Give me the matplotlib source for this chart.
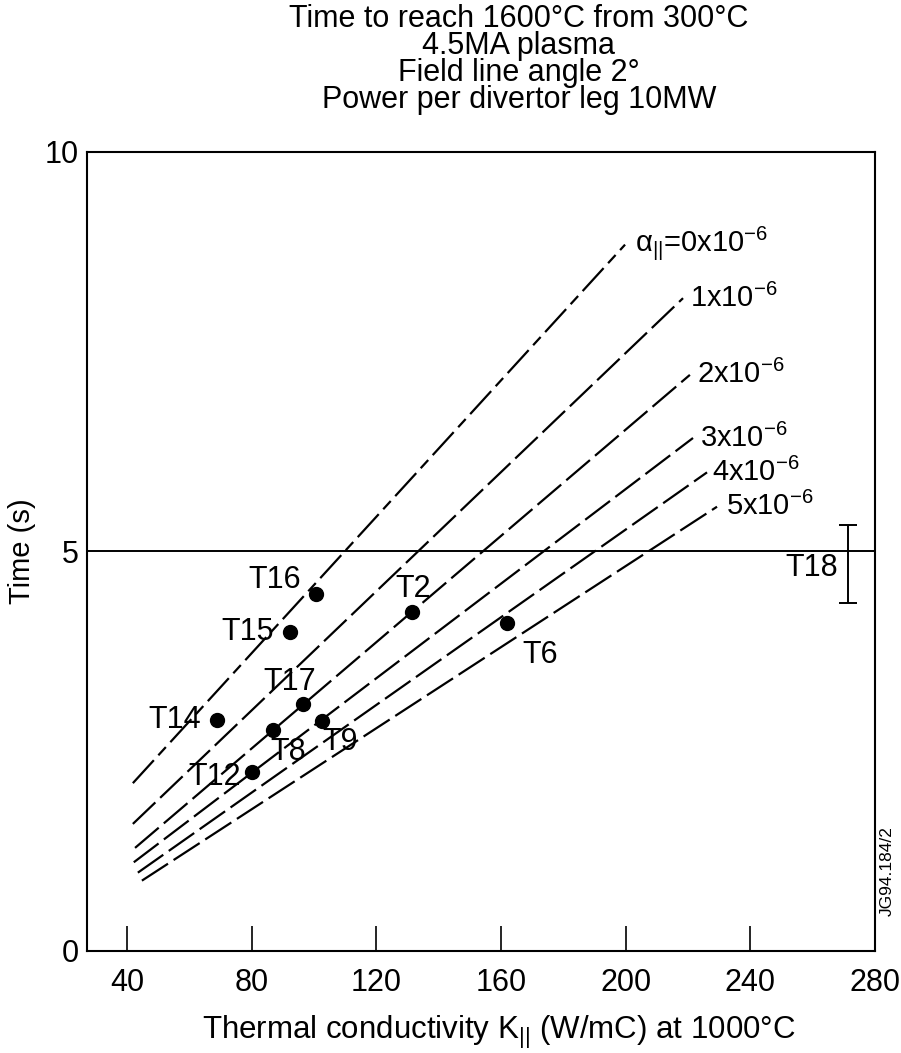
import numpy as np
import matplotlib
matplotlib.use("Agg")
import matplotlib.pyplot as plt

plt.rcParams['font.family'] = ['Liberation Sans', 'DejaVu Sans']
plt.rcParams['mathtext.fontset'] = 'custom'
plt.rcParams['mathtext.rm'] = 'Liberation Sans'
plt.rcParams['mathtext.it'] = 'Liberation Sans'

# alpha curves: start and end points (K, time)
alpha_labels = [r'α$_{||}$=0x10$^{-6}$', r'1x10$^{-6}$', r'2x10$^{-6}$',
                r'3x10$^{-6}$', r'4x10$^{-6}$', r'5x10$^{-6}$']
k_start = [41.9, 41.9, 42.6, 42.2, 43.5, 44.8]
t_start = [2.10, 1.59, 1.29, 1.11, 0.98, 0.88]
k_end = [199.8, 218.4, 220.6, 221.6, 226.1, 229.3]
t_end = [8.84, 8.17, 7.21, 6.42, 5.99, 5.56]

# tiles
tile_names = ['T16', 'T15', 'T14', 'T17', 'T8', 'T9', 'T12', 'T2', 'T6']
tile_k = [100.6, 92.3, 68.9, 96.5, 86.8, 102.6, 80.1, 131.4, 161.9]
tile_t = [4.47, 3.99, 2.89, 3.09, 2.77, 2.88, 2.24, 4.24, 4.10]

# T18 range
t18_k = 271.3
t18_lo = 4.36
t18_hi = 5.33

time_limit = 5

x_ticks = [40, 80, 120, 160, 200, 240, 280]
y_ticks = [0, 5, 10]

fig = plt.figure(figsize=(9.01, 10.53), dpi=100)
ax = fig.add_axes([0.0966, 0.0969, 0.8746, 0.7588])

dashes = [(0, (14, 3, 5, 3))] + [(0, (14, 3))] * 5
label_off = [(10, 2), (7, 0), (7, 0), (7, 0), (5, 0), (9, 0)]
for i in range(len(alpha_labels)):
    ax.plot([k_start[i], k_end[i]], [t_start[i], t_end[i]], color='black',
            lw=1.6, linestyle=dashes[i])
    ax.annotate(alpha_labels[i], (k_end[i], t_end[i]), xytext=label_off[i],
                textcoords='offset pixels', ha='left', va='center', fontsize=21)

ax.axhline(time_limit, color='black', lw=1.4)

ax.plot(tile_k, tile_t, 'o', color='black', ms=10)
tile_off = [(-41, 14), (-42, 0), (-42, 0), (-13, 22), (15, -22), (18, -21),
            (-37, -5), (1, 23), (33, -32)]
for i in range(len(tile_names)):
    ax.annotate(tile_names[i], (tile_k[i], tile_t[i]), xytext=tile_off[i],
                textcoords='offset pixels', ha='center', va='center', fontsize=22)

ax.errorbar([t18_k], [(t18_lo + t18_hi) / 2], yerr=[(t18_hi - t18_lo) / 2],
            fmt='none', ecolor='black', elinewidth=1.4, capsize=6.5, capthick=1.4)
ax.annotate('T18', (t18_k, (t18_lo + t18_hi) / 2), xytext=(-36, -4),
            textcoords='offset pixels', ha='center', va='center', fontsize=22)

ax.set_xlim(27.2, 280)
ax.set_ylim(0, 10)
ax.set_xticks(x_ticks)
ax.set_yticks(y_ticks)
ax.tick_params(axis='x', direction='in', length=18, width=1.2, labelsize=22, pad=12)
ax.tick_params(axis='y', length=0, labelsize=22, pad=6)
for s in ax.spines.values():
    s.set_linewidth(1.5)

ax.set_xlabel('Thermal conductivity K$_{||}$ (W/mC) at 1000°C', fontsize=22.5)
ax.xaxis.set_label_coords(0.523, -0.079)
ax.set_ylabel('Time (s)', fontsize=21, labelpad=6)

fig.text(0.576, 0.996, 'Time to reach 1600°C from 300°C\n4.5MA plasma\n'
         'Field line angle 2°\nPower per divertor leg 10MW',
         ha='center', va='top', fontsize=22, linespacing=0.86)

ax.text(1.016, 0.10, 'JG94.184/2', transform=ax.transAxes, rotation=90,
        ha='center', va='center', fontsize=12.5)

fig.savefig('out.png', dpi=100)
